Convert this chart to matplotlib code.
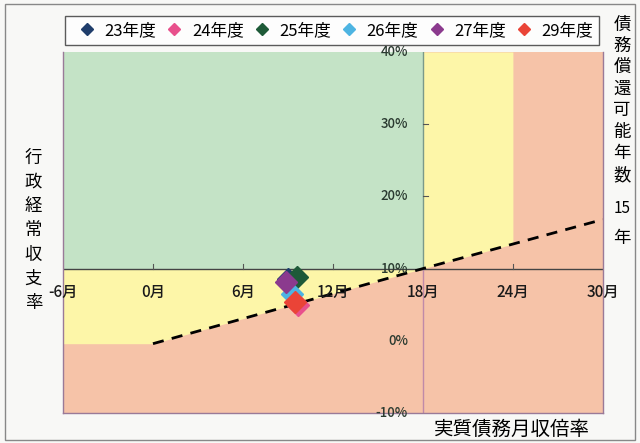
import matplotlib.pyplot as plt
from matplotlib.lines import Line2D
from matplotlib.patches import Rectangle

plt.rcParams['font.family'] = ['Noto Sans CJK JP', 'DejaVu Sans']
plt.rcParams['axes.unicode_minus'] = False

# data
years = ["23年度", "24年度", "25年度", "26年度", "27年度", "29年度"]
colors = ["#1f3d6b", "#e8508c", "#1e5a38", "#4db4e2", "#8b3a8e", "#ea4437"]
months = [9.0, 9.7, 9.6, 9.3, 8.9, 9.5]      # 実質債務月収倍率
ratios = [8.5, 5.0, 8.9, 6.5, 8.1, 5.4]      # 行政経常収支率 (%)

x_ticks = [-6, 0, 6, 12, 18, 24, 30]
x_labels = ["-6月", "0月", "6月", "12月", "18月", "24月", "30月"]
y_ticks = [40, 30, 20, 10, 0, -10]
y_labels = ["40%", "30%", "20%", "10%", "0%", "-10%"]

# 15年 line (debt repayment years)
line_x = [0, 18, 30]
line_y = [-0.4, 10, 16.8]

green = "#c4e3c6"
yellow = "#fdf6a8"
salmon = "#f6c3a8"

fig = plt.figure(figsize=(6.4, 4.43), dpi=100)
fig.patch.set_facecolor("#f8f8f6")
fig.patches.append(Rectangle((0.008, 0.006), 0.984, 0.986, transform=fig.transFigure,
                             fill=False, edgecolor="#888888", lw=1))
ax = fig.add_axes([0.0984, 0.0677, 0.8436, 0.815])
ax.set_xlim(-6, 30)
ax.set_ylim(-10, 40)
ax.set_facecolor(salmon)

ax.fill_between([-6, 18], 10, 40, color=green, lw=0)
ax.fill_between([-6, 0, 18], [-0.4, -0.4, 10], 10, color=yellow, lw=0)
ax.fill_between([18, 24], [10, 10 + 6 * (16.8 - 10) / 12], 40, color=yellow, lw=0)

ax.axhline(10, color="#444444", lw=1)
ax.axvline(18, ymin=0, ymax=0.4, color="#c08aa8", lw=1)
ax.axvline(18, ymin=0.4, ymax=1, color="#7a9a8a", lw=1)
ax.plot(line_x, line_y, color="black", lw=2, ls=(0, (4, 3)), zorder=3)

for t in [0, 6, 12, 24]:
    ax.plot([t, t], [10, 10.6], color="#555555", lw=0.8)
for t in [20, 30]:
    ax.plot([18, 18.35], [t, t], color="#555555", lw=0.8)

for m, r, c in zip(months, ratios, colors):
    ax.plot(m, r, marker="D", ms=11, color=c, mec=c, ls="none", zorder=4)

for t, lab in zip(x_ticks, x_labels):
    ax.text(t, 6.7, lab, ha="center", va="center", fontsize=11, color="#1a1a1a",
            fontweight="medium")
for t, lab in zip(y_ticks, y_labels):
    ax.text(17.0, t, lab, ha="right", va="center", fontsize=9.5, color="#2a3a30",
            fontweight="medium")

ax.set_xticks([])
ax.set_yticks([])
ax.spines["top"].set_visible(False)
for s in ["left", "bottom", "right"]:
    ax.spines[s].set_color("#9a7a98")
    ax.spines[s].set_linewidth(1)

handles = [Line2D([], [], marker="D", ms=6.5, color=c, ls="none") for c in colors]
leg = ax.legend(handles, years, ncol=6, loc="lower left", mode="expand",
                bbox_to_anchor=(0.003, 1.02, 0.99, 0.1), fontsize=12,
                frameon=True, fancybox=False, handletextpad=0.05,
                borderpad=0.35, borderaxespad=0)
leg.get_frame().set_edgecolor("#333333")
leg.get_frame().set_linewidth(1)

fig.text(0.052, 0.48, "\n".join("行政経常収支率"), ha="center", va="center",
         fontsize=12.5, linespacing=1.45)
fig.text(0.972, 0.775, "\n".join("債務償還可能年数"), ha="center", va="center",
         fontsize=12.5, linespacing=1.25)
fig.text(0.972, 0.53, "15", ha="center", va="center", fontsize=11)
fig.text(0.972, 0.463, "年", ha="center", va="center", fontsize=12.5)
fig.text(0.8, 0.03, "実質債務月収倍率", ha="center", va="center", fontsize=14)

fig.savefig("out.png", dpi=100, facecolor=fig.get_facecolor())
